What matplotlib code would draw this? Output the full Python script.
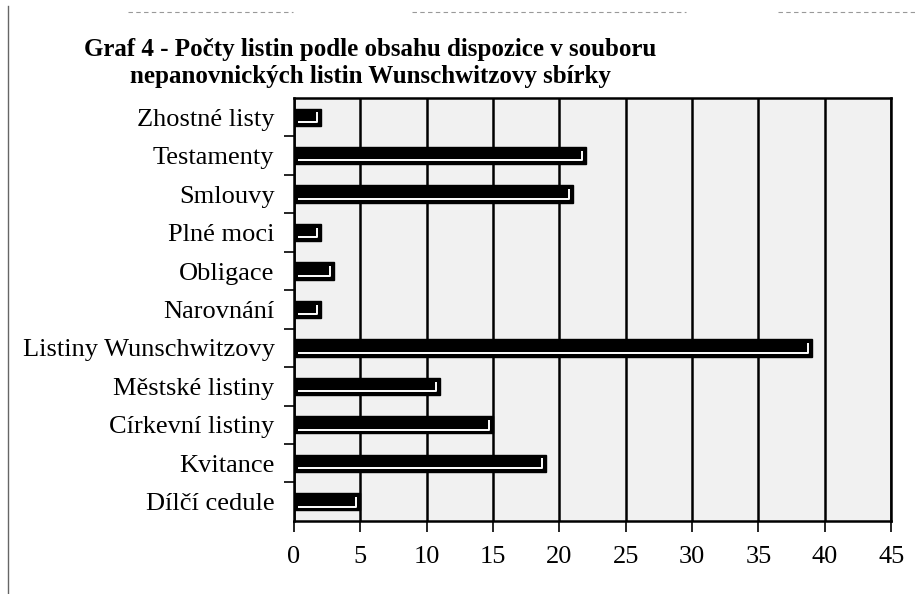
import matplotlib
matplotlib.use("Agg")
import matplotlib.pyplot as plt
from matplotlib.lines import Line2D

# categories from bottom to top (as drawn on the y axis)
categories = ["Dílčí cedule", "Kvitance", "Církevní listiny", "Městské listiny",
              "Listiny Wunschwitzovy", "Narovnání", "Obligace", "Plné moci",
              "Smlouvy", "Testamenty", "Zhostné listy"]
counts = [5, 19, 15, 11, 39, 2, 3, 2, 21, 22, 2]
x_ticks = [0, 5, 10, 15, 20, 25, 30, 35, 40, 45]
title = ("Graf 4 - Počty listin podle obsahu dispozice v souboru\n"
         "nepanovnických listin Wunschwitzovy sbírky")

plt.rcParams['font.family'] = ['Liberation Serif', 'DejaVu Serif']

fig = plt.figure(figsize=(9.15, 5.94), dpi=100)
ax = fig.add_axes([0.3213, 0.123, 0.6527, 0.712])
ax.set_facecolor('#f1f1f1')

ypos = list(range(len(categories)))
bar_h = 0.45
ax.barh(ypos, counts, height=bar_h, color='black', edgecolor='black', zorder=3)

# white inner edge on the bars (the old 3D excel look)
for y, v in zip(ypos, counts):
    yb = y - bar_h / 2 + 0.1
    yt = y + bar_h / 2 - 0.1
    xr = v - 0.3
    ax.plot([0.3, xr, xr], [yb, yb, yt], color='white', lw=1.4,
            solid_capstyle='butt', zorder=4)

ax.set_xlim(0, 45)
ax.set_ylim(-0.5, len(categories) - 0.5)
ax.set_xticks(x_ticks)
ax.set_xticklabels([str(t) for t in x_ticks], fontsize=19)
ax.set_yticks(ypos)
ax.set_yticklabels(categories, fontsize=19)
ax.set_yticks([y + 0.5 for y in ypos[:-1]], minor=True)
ax.tick_params(axis='y', which='major', length=0, pad=14)
ax.tick_params(axis='y', which='minor', length=7, width=1.2, direction='out')
ax.tick_params(axis='x', length=8, width=1.2, direction='out', pad=10)

ax.xaxis.grid(True, color='black', lw=1.8, zorder=1)
ax.set_axisbelow(True)
for s in ax.spines.values():
    s.set_color('black')
    s.set_linewidth(1.8)

fig.text(0.405, 0.894, title, ha='center', va='center', fontsize=18,
         fontweight='bold', linespacing=1.2)

# scan borders
fig.add_artist(Line2D([0.009, 0.009], [0.0, 0.99], color='#666666', lw=1))
for x0, x1 in [(0.14, 0.32), (0.45, 0.75), (0.85, 1.0)]:
    fig.add_artist(Line2D([x0, x1], [0.98, 0.98], color='#999999', lw=0.8,
                          ls=(0, (4, 3))))

fig.savefig("out.png", dpi=100)
